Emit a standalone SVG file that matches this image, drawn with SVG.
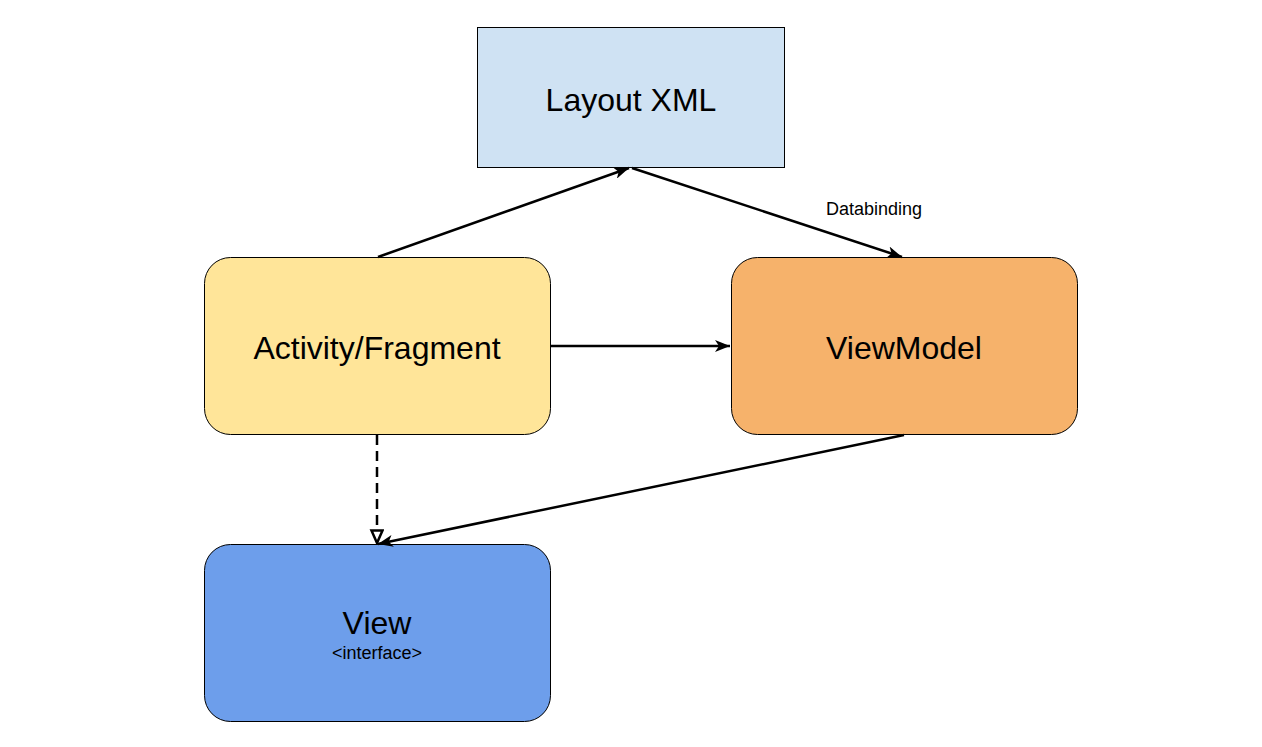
<svg xmlns="http://www.w3.org/2000/svg" width="1262" height="747" viewBox="0 0 1262 747">
<style>
.node{stroke:#000;stroke-width:1}
.lbl{font-family:"Liberation Sans",Arial,sans-serif;fill:#000;text-anchor:middle}
.edge{stroke:#000;stroke-width:2.5;fill:none}
</style>
<defs>
<marker id="arr" markerWidth="16" markerHeight="12" refX="15" refY="6" orient="auto" markerUnits="userSpaceOnUse">
<path d="M0,0 L15,6 L0,12 L4,6 Z" fill="#000"/>
</marker>
<marker id="tri" markerWidth="16" markerHeight="16" refX="14" refY="7" orient="auto" markerUnits="userSpaceOnUse">
<path d="M1.5,1.5 L14,7 L1.5,12.5 Z" fill="#fff" stroke="#000" stroke-width="2.5"/>
</marker>
</defs>
<rect width="1262" height="747" fill="#fff"/>
<g id="layout">
<rect class="node" x="477.5" y="27.5" width="307" height="140" fill="#cfe2f3"/>
<text class="lbl" x="631" y="111" font-size="32">Layout XML</text>
</g>
<g id="activity">
<rect class="node" x="204.5" y="257.5" width="346" height="177" rx="26" fill="#ffe599"/>
<text class="lbl" x="377" y="359" font-size="32">Activity/Fragment</text>
</g>
<g id="viewmodel">
<rect class="node" x="731.5" y="257.5" width="346" height="177" rx="26" fill="#f6b26b"/>
<text class="lbl" x="904" y="359" font-size="32">ViewModel</text>
</g>
<g id="view">
<rect class="node" x="204.5" y="544.5" width="346" height="177" rx="26" fill="#6d9eeb"/>
<text class="lbl" x="377" y="634" font-size="32">View</text>
<text class="lbl" x="377" y="659" font-size="18">&lt;interface&gt;</text>
</g>
<g id="connectors">
<line class="edge" x1="378" y1="257" x2="629" y2="168" marker-end="url(#arr)"/>
<line class="edge" x1="632" y1="168" x2="902" y2="257" marker-end="url(#arr)"/>
<text class="lbl" x="874" y="215" font-size="18">Databinding</text>
<line class="edge" x1="551" y1="346" x2="730" y2="346" marker-end="url(#arr)"/>
<line class="edge" x1="904" y1="435" x2="378" y2="544" marker-end="url(#arr)"/>
<line class="edge" x1="377" y1="435" x2="377" y2="543" stroke-width="3" stroke-dasharray="10,6" marker-end="url(#tri)"/>
</g>
</svg>
